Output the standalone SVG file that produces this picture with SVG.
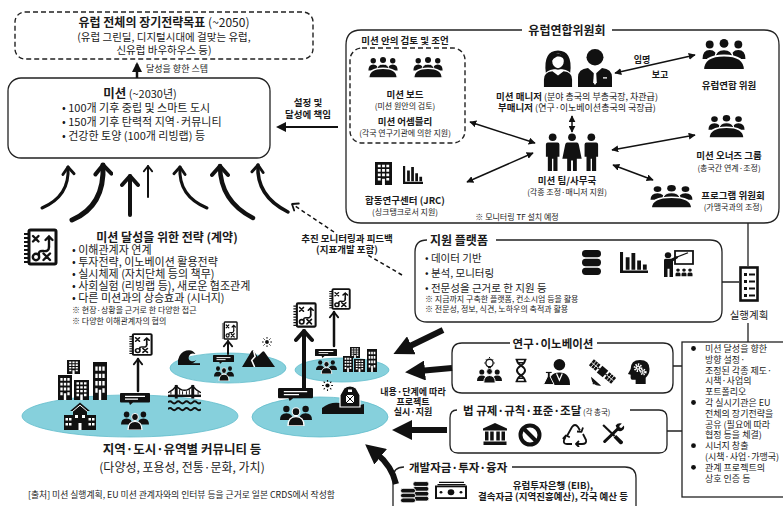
<svg xmlns="http://www.w3.org/2000/svg" width="783" height="506" viewBox="0 0 783 506">
<style>
text{font-family:"Noto Sans CJK KR","Noto Sans",sans-serif;fill:#1a1a1a}
.b{font-weight:bold}
.c{text-anchor:middle}
.ln{fill:none;stroke:#222;stroke-width:1.3}
.dash{fill:none;stroke:#222;stroke-width:1.4;stroke-dasharray:5 3}
.pool{fill:#86d0dc;stroke:#62bccb;stroke-width:0.8}
.dbl{fill:none;stroke:#111;stroke-width:1.5;marker-start:url(#tri);marker-end:url(#tri)}
.up{fill:none;stroke:#111;stroke-linecap:round}
.fat{fill:none;stroke:#111;stroke-width:6;marker-end:url(#big)}
</style>
<defs>
<marker id="tri" viewBox="0 0 10 10" refX="9" refY="5" markerWidth="7" markerHeight="7" markerUnits="userSpaceOnUse" orient="auto-start-reverse"><path d="M0,0 L10,5 L0,10Z" fill="#111"/></marker>
<marker id="triB" viewBox="0 0 10 10" refX="8" refY="5" markerWidth="10" markerHeight="10" markerUnits="userSpaceOnUse" orient="auto"><path d="M0,0 L10,5 L0,10Z" fill="#111"/></marker>
<marker id="big" viewBox="0 0 10 10" refX="3" refY="5" markerWidth="20" markerHeight="20" markerUnits="userSpaceOnUse" orient="auto"><path d="M0,0 L10,5 L0,10Z" fill="#111"/></marker>
<marker id="chevL" viewBox="0 0 20 20" refX="13" refY="10" markerWidth="20" markerHeight="20" markerUnits="userSpaceOnUse" orient="auto"><path d="M4,2 L13,10 L4,18" fill="none" stroke="#111" stroke-width="4" stroke-linecap="round" stroke-linejoin="round"/></marker>
<marker id="chevM" viewBox="0 0 20 20" refX="13" refY="10" markerWidth="16" markerHeight="16" markerUnits="userSpaceOnUse" orient="auto"><path d="M4,3 L13,10 L4,17" fill="none" stroke="#111" stroke-width="3.6" stroke-linecap="round" stroke-linejoin="round"/></marker>
<marker id="chevS" viewBox="0 0 20 20" refX="13" refY="10" markerWidth="12" markerHeight="12" markerUnits="userSpaceOnUse" orient="auto"><path d="M4,3 L13,10 L4,17" fill="none" stroke="#111" stroke-width="3" stroke-linecap="round" stroke-linejoin="round"/></marker>

<!-- meeting: three people behind a round table -->
<symbol id="meet" viewBox="0 0 40 28" preserveAspectRatio="none">
<g fill="#111">
<circle cx="7" cy="5" r="3.6"/><circle cx="33" cy="5" r="3.6"/><circle cx="20" cy="4" r="4"/>
<path d="M0.5,18 Q0.5,10 7,10 Q13.5,10 13.5,18Z"/>
<path d="M26.5,18 Q26.5,10 33,10 Q39.5,10 39.5,18Z"/>
<path d="M12,17 Q12,9.5 20,9.5 Q28,9.5 28,17Z" stroke="#fff" stroke-width="1.2"/>
<path d="M1,28 Q1,15 20,15 Q39,15 39,28Z" stroke="#fff" stroke-width="1.8"/>
</g>
</symbol>
<!-- strategy notebook -->
<symbol id="strat" viewBox="0 0 36 38" preserveAspectRatio="none">
<rect x="7" y="2" width="27" height="34" rx="1.5" fill="#fff" stroke="#111" stroke-width="3"/>
<path d="M2,6H7M2,10H7M2,14H7M2,18H7M2,22H7M2,26H7M2,30H7M2,34H7" stroke="#111" stroke-width="1.8"/>
<g fill="none" stroke="#111" stroke-width="2.4" stroke-linecap="round">
<path d="M11,8 L16.5,13.5 M16.5,8 L11,13.5"/>
<path d="M27,19 V8.5 M23.5,12 L27,8.5 L30.5,12"/>
<path d="M27,19 Q27,24 21,23 Q16,22.5 17,27"/>
<circle cx="14" cy="29" r="3.2"/>
<path d="M21.5,25.5 L28,32 M28,25.5 L21.5,32"/>
</g>
</symbol>
<symbol id="bldg" viewBox="0 0 18 26" preserveAspectRatio="none">
<rect width="18" height="26" fill="#111"/>
<path fill="#fff" d="M3,3h3v3h-3zM7.5,3h3v3h-3zM12,3h3v3h-3zM3,8h3v3h-3zM7.5,8h3v3h-3zM12,8h3v3h-3zM3,13h3v3h-3zM7.5,13h3v3h-3zM12,13h3v3h-3zM3,18h3v3h-3zM12,18h3v3h-3zM7.5,19h3v7h-3z"/>
</symbol>
<symbol id="chart" viewBox="0 0 22 20" preserveAspectRatio="none">
<path d="M1.2,0 V18.8 H22" fill="none" stroke="#111" stroke-width="2.4"/>
<path fill="#111" d="M4.5,5h3v12h-3zM9,1h3v16h-3zM13.5,8h3v9h-3zM18,12h3v5h-3z"/>
</symbol>
<symbol id="man" viewBox="0 0 36 40" preserveAspectRatio="none">
<circle cx="18" cy="9.5" r="8.5" fill="#111"/>
<path fill="#111" d="M1,40 V30 Q1,21.5 11,20.5 L18,27 L25,20.5 Q35,21.5 35,30 V40Z"/>
<path fill="#fff" d="M17,23 H19 L19.8,35 L18,38 L16.2,35Z"/>
<rect x="26" y="30" width="4" height="1.3" fill="#fff"/>
</symbol>
<symbol id="woman" viewBox="0 0 32 40" preserveAspectRatio="none">
<path fill="#111" d="M3,25 Q0,2 16,1.5 Q32,2 29,25 Q26,21 16,21 Q6,21 3,25Z"/>
<ellipse cx="16" cy="12.5" rx="7" ry="8.5" fill="#fff" stroke="#111" stroke-width="1.6"/>
<path fill="#111" d="M8,9 Q12,3 19,5.5 Q23,7.5 23.5,12 Q20,7 15,8 Q11,9.5 9,13Z"/>
<path fill="#111" d="M1,40 V32 Q1,24.5 10,23.5 L16,28 L22,23.5 Q31,24.5 31,32 V40Z"/>
</symbol>
<symbol id="team3" viewBox="0 0 60 40" preserveAspectRatio="none">
<g fill="#111">
<circle cx="10" cy="4.5" r="4"/><path d="M3,12 Q3,10 5,10 H15 Q17,10 17,12 V25 H15 V40 H10.7 V27 H9.3 V40 H5 V25 H3Z"/>
<circle cx="30" cy="4.5" r="4"/><path d="M25,10 H35 Q36.5,10 37,12 L40,27 H35 V40 H31 V29 H29 V40 H25 V27 H20 L23,12 Q23.5,10 25,10Z"/>
<circle cx="50" cy="4.5" r="4"/><path d="M43,12 Q43,10 45,10 H55 Q57,10 57,12 V25 H55 V40 H50.7 V27 H49.3 V40 H45 V25 H43Z"/>
</g>
</symbol>
<symbol id="db" viewBox="0 0 20 26" preserveAspectRatio="none">
<g fill="#111"><rect width="20" height="7.6" rx="3.8"/><rect y="9.2" width="20" height="7.6" rx="3.8"/><rect y="18.4" width="20" height="7.6" rx="3.8"/></g>
</symbol>
<symbol id="pres" viewBox="0 0 32 30" preserveAspectRatio="none">
<rect x="13" y="1" width="18" height="14" fill="#fff" stroke="#111" stroke-width="1.8"/>
<path d="M15,7.5 L26,3" stroke="#111" stroke-width="1.3"/>
<g fill="#111">
<circle cx="6" cy="5.5" r="3.2"/>
<path d="M2,11 Q2,9.5 4,9.5 H9 L15,6.5 L16.3,8.3 L11,12 V29 H7.5 V20 H5.5 V29 H2Z"/>
<circle cx="16" cy="21.5" r="1.8"/><circle cx="22" cy="21.5" r="1.8"/><circle cx="28" cy="21.5" r="1.8"/>
<path d="M13.5,28 V25.5 Q13.5,24 16,24 Q18.5,24 18.5,25.5 V28Z M19.5,28 V25.5 Q19.5,24 22,24 Q24.5,24 24.5,25.5 V28Z M25.5,28 V25.5 Q25.5,24 28,24 Q30.5,24 30.5,25.5 V28Z"/>
</g>
</symbol>
<!-- checklist document used for the action plan -->
<symbol id="listdoc" viewBox="0 0 20 36" preserveAspectRatio="none">
<rect x="1.5" y="1.5" width="17" height="33" fill="#fff" stroke="#111" stroke-width="2.6"/>
<path fill="#111" d="M5,7h3v3h-3zM5,14h3v3h-3zM5,21h3v3h-3zM5,28h3v3h-3z"/>
<path stroke="#111" stroke-width="2" d="M10,8.5H16M10,15.5H16M10,22.5H16M10,29.5H16"/>
</symbol>
<symbol id="idea" viewBox="0 0 26 26" preserveAspectRatio="none">
<circle cx="13" cy="6" r="3.8" fill="none" stroke="#111" stroke-width="1.4"/>
<path d="M13,0 V1 M7.5,6 H8.5 M17.5,6 H18.5 M9,2 L9.7,2.7 M17,2 L16.3,2.7" stroke="#111" stroke-width="1"/>
<g fill="#111">
<rect x="11.5" y="9.5" width="3" height="2.2"/>
<circle cx="5" cy="15" r="2.6"/><circle cx="21" cy="15" r="2.6"/>
<path d="M0,24 Q0,18.5 5,18.5 Q10,18.5 10,24Z M16,24 Q16,18.5 21,18.5 Q26,18.5 26,24Z"/>
<circle cx="13" cy="14.5" r="3" stroke="#fff" stroke-width="0.8"/>
<path d="M7,26 Q7,18.5 13,18.5 Q19,18.5 19,26Z" stroke="#fff" stroke-width="1"/>
</g>
</symbol>
<symbol id="dna" viewBox="0 0 12 26" preserveAspectRatio="none">
<path d="M2,2 C2,8 10,8 10,13 C10,18 2,18 2,24 M10,2 C10,8 2,8 2,13 C2,18 10,18 10,24" fill="none" stroke="#111" stroke-width="2"/>
<path d="M0.5,1.5 H11.5 M0.5,24.5 H11.5 M3.5,5 H8.5 M3.5,21 H8.5" stroke="#111" stroke-width="1.6"/>
</symbol>
<symbol id="sci" viewBox="0 0 28 28" preserveAspectRatio="none">
<g fill="#111">
<circle cx="17" cy="7" r="6"/>
<path d="M6,28 Q6,15 17,15 Q28,15 28,28Z"/>
<path d="M4.5,15 V19.5 L0.5,27.5 H11.5 L7.5,19.5 V15Z" stroke="#fff" stroke-width="1"/>
</g>
<path d="M14,16 L17,23 L20,16" fill="none" stroke="#fff" stroke-width="1.3"/>
<path d="M3,15 H9" stroke="#111" stroke-width="1.2"/>
</symbol>
<symbol id="sat" viewBox="0 0 30 30" preserveAspectRatio="none">
<g transform="rotate(40 15 14)" fill="#111">
<rect x="0" y="10" width="9" height="8"/>
<rect x="11" y="9.5" width="8" height="9"/>
<rect x="21" y="10" width="9" height="8"/>
<path d="M9,14 H11 M19,14 H21" stroke="#111" stroke-width="1.5"/>
<path d="M3,10 V18 M6,10 V18 M24,10 V18 M27,10 V18 M0,14 H9 M21,14 H30" stroke="#fff" stroke-width="0.8"/>
</g>
<path d="M4,21 Q5,28 12,28Z M8,24 L5,27" fill="#111" stroke="#111" stroke-width="1.2"/>
</symbol>
<symbol id="headg" viewBox="0 0 24 26" preserveAspectRatio="none">
<path fill="#111" d="M9,26 V21.5 H5.5 Q3.8,21.5 3.8,19.5 V16.5 L1,15.5 L3.8,10.5 Q3.8,1 13.5,1 Q23.5,1 23.5,10.5 Q23.5,16 19.5,19.5 V26Z"/>
<circle cx="11.5" cy="9" r="3.3" fill="none" stroke="#fff" stroke-width="2.4" stroke-dasharray="1.4 1.1"/>
<circle cx="11.5" cy="9" r="2.3" fill="#fff"/><circle cx="11.5" cy="9" r="0.9" fill="#111"/>
<circle cx="17" cy="13.5" r="2.5" fill="none" stroke="#fff" stroke-width="2" stroke-dasharray="1.2 1"/>
<circle cx="17" cy="13.5" r="1.7" fill="#fff"/><circle cx="17" cy="13.5" r="0.7" fill="#111"/>
</symbol>
<symbol id="court" viewBox="0 0 24 22" preserveAspectRatio="none">
<g fill="#111">
<path d="M12,0 L24,5.5 V7.5 H0 V5.5Z"/>
<path d="M2,8.5h3.5v9h-3.5zM7.2,8.5h3.5v9h-3.5zM13.3,8.5h3.5v9h-3.5zM18.5,8.5h3.5v9h-3.5z"/>
<rect x="0.5" y="18.5" width="23" height="3.5"/>
</g>
</symbol>
<symbol id="ban" viewBox="0 0 24 24" preserveAspectRatio="none">
<circle cx="12" cy="12" r="9.5" fill="none" stroke="#111" stroke-width="4"/>
<path d="M5.5,5.5 L18.5,18.5" stroke="#111" stroke-width="4"/>
</symbol>
<symbol id="recyc" viewBox="0 0 26 24" preserveAspectRatio="none">
<g fill="none" stroke="#111" stroke-width="1.8" stroke-linejoin="round">
<path d="M5,13 L10,4 Q13,0 16,4 L18,7.5"/>
<path d="M15,8.5 L19.5,8.8 L21,4.5"/>
<path d="M21,11 L24,17 Q25,21 20,21 H15"/>
<path d="M17,18 L14,21 L17,24"/>
<path d="M10,21 H5 Q1,21 2,17 L3.5,14"/>
<path d="M0.8,15.8 L4,12.5 L7.8,14.2"/>
</g>
</symbol>
<symbol id="tools" viewBox="0 0 24 24" preserveAspectRatio="none">
<path d="M3,3 L14,14" stroke="#111" stroke-width="2"/>
<path d="M13,15.5 L15.5,13 L22,19.5 Q22.5,21 21,22 Q19.5,22.5 19,22Z" fill="#111"/>
<path d="M4.5,19.5 L17,7" stroke="#111" stroke-width="3" stroke-linecap="round"/>
<path d="M15,3.5 Q17,0.5 21,1.5 L18.5,4 L19,5.5 L20.5,6 L23,3.5 Q24,7.5 20.5,9 Q18.5,9.5 17,8.5Z" fill="#111"/>
</symbol>
<symbol id="coins" viewBox="0 0 28 22" preserveAspectRatio="none">
<g fill="#111" stroke="#fff" stroke-width="0.8">
<rect x="12" y="1.5" width="15" height="4.6" rx="2.3"/><rect x="12" y="6.2" width="15" height="4.6" rx="2.3"/><rect x="12" y="10.9" width="15" height="4.6" rx="2.3"/><rect x="12" y="15.6" width="15" height="4.6" rx="2.3"/>
<rect x="0.5" y="8" width="14" height="4.6" rx="2.3"/><rect x="0.5" y="12.6" width="14" height="4.6" rx="2.3"/><rect x="0.5" y="17.2" width="14" height="4.6" rx="2.3"/>
</g>
</symbol>
<symbol id="note" viewBox="0 0 32 20" preserveAspectRatio="none">
<path d="M4,1.5 H29 M2.5,4 H30.5" stroke="#111" stroke-width="1.5"/>
<rect x="1" y="6" width="30" height="13" fill="#fff" stroke="#111" stroke-width="2"/>
<g fill="#111"><circle cx="16" cy="12.5" r="3.3"/><circle cx="6" cy="12.5" r="1.4"/><circle cx="26" cy="12.5" r="1.4"/></g>
</symbol>
<symbol id="spk" viewBox="0 0 30 14" preserveAspectRatio="none">
<path fill="#111" d="M1,0 H29 Q30,0 30,1 V10 Q30,11 29,11 H13 L10,14 L9,11 H1 Q0,11 0,10 V1 Q0,0 1,0Z"/>
<path d="M5,4 H25 M5,7.2 H18" stroke="#fff" stroke-width="1.4"/>
</symbol>
<symbol id="ppl" viewBox="0 0 30 20" preserveAspectRatio="none">
<g fill="#111">
<circle cx="6" cy="4.5" r="3"/><circle cx="24" cy="4.5" r="3"/>
<path d="M0,14.5 Q0,8.5 6,8.5 Q12,8.5 12,14.5Z M18,14.5 Q18,8.5 24,8.5 Q30,8.5 30,14.5Z"/>
<circle cx="15" cy="7" r="3.6" stroke="#fff" stroke-width="1"/>
<path d="M7.5,20 Q7.5,11.5 15,11.5 Q22.5,11.5 22.5,20Z" stroke="#fff" stroke-width="1.2"/>
</g>
</symbol>
<symbol id="school" viewBox="0 0 34 28" preserveAspectRatio="none">
<g fill="#111">
<rect x="1" y="13" width="9" height="15"/><rect x="24" y="13" width="9" height="15"/>
<path d="M17,0.5 L27,9 H24 V28 H10 V9 H7Z"/>
</g>
<path fill="#fff" d="M2.5,16h2.5v2.5h-2.5zM6,16h2.5v2.5h-2.5zM2.5,21h2.5v2.5h-2.5zM6,21h2.5v2.5h-2.5zM25.5,16h2.5v2.5h-2.5zM29,16h2.5v2.5h-2.5zM25.5,21h2.5v2.5h-2.5zM29,21h2.5v2.5h-2.5zM12,13h3v3h-3zM19,13h3v3h-3zM15.5,21h3v7h-3z"/>
<path d="M9.5,9.5 L17,3.2 L24.5,9.5" fill="none" stroke="#fff" stroke-width="1"/>
</symbol>
<symbol id="bridge" viewBox="0 0 34 30" preserveAspectRatio="none">
<g fill="#111"><rect y="11" width="34" height="2.5"/><rect x="7" y="1" width="3" height="14"/><rect x="24" y="1" width="3" height="14"/></g>
<path d="M0,9 Q5,7 8.5,2 Q17,11 25.5,2 Q29,7 34,9" fill="none" stroke="#111" stroke-width="1.4"/>
<path d="M3,8 V11 M12,5.5 V11 M15,7.5 V11 M19,7.5 V11 M22,5.5 V11 M31,8 V11" stroke="#111" stroke-width="1"/>
<path d="M0,19 q2.1,-2.2 4.25,0 t4.25,0 t4.25,0 t4.25,0 t4.25,0 t4.25,0 t4.25,0 t4.25,0 M0,26 q2.1,-2.2 4.25,0 t4.25,0 t4.25,0 t4.25,0 t4.25,0 t4.25,0 t4.25,0 t4.25,0" fill="none" stroke="#111" stroke-width="2"/>
</symbol>
<symbol id="wave" viewBox="0 0 24 16" preserveAspectRatio="none">
<path fill="#111" d="M0,16 V11 Q2,3 9,1.5 Q16,0 19,5 Q14,3.5 12,7 Q10.5,10.5 14,12 Q17,13 20,11 Q17,15 10,16Z"/>
<rect y="14.2" width="24" height="1.8" fill="#111"/>
</symbol>
<symbol id="mount" viewBox="0 0 34 22" preserveAspectRatio="none">
<path fill="#111" d="M0,22 L10,5 Q11,4 12,5 L16,11 L21,6 Q22,5 23,6 L34,22Z"/>
<path d="M12,5 L13.5,11 L10,15 L13,22" fill="none" stroke="#fff" stroke-width="1.6"/>
</symbol>
<symbol id="sun" viewBox="0 0 12 12">
<circle cx="6" cy="6" r="2.3" fill="#111"/>
<path d="M6,0V2M6,10V12M0,6H2M10,6H12M1.8,1.8L3.2,3.2M8.8,8.8L10.2,10.2M1.8,10.2L3.2,8.8M8.8,3.2L10.2,1.8" stroke="#111" stroke-width="1.2"/>
</symbol>
<symbol id="barn" viewBox="0 0 42 30" preserveAspectRatio="none">
<path fill="#111" d="M0,30 V24 Q10,16 22,20 Q32,23.5 42,20 V30Z"/>
<path fill="#111" stroke="#fff" stroke-width="1.2" d="M18,23 V11 L22,4 Q28,0 34,4 L38,11 V23Z"/>
<rect x="24" y="11" width="8" height="8" fill="#fff"/>
<path d="M24,11 L32,19 M32,11 L24,19" stroke="#111" stroke-width="1"/>
<rect x="26" y="5.5" width="4" height="2.5" fill="#fff"/>
</symbol>
</defs>

<rect width="783" height="506" fill="#fff"/>

<!-- long-term goal -->
<g id="goal">
<rect x="15" y="12" width="298" height="47" rx="10" class="dash"/>
<text x="164" y="27" class="c" font-size="12"><tspan class="b">유럽 전체의 장기전략목표</tspan> (~2050)</text>
<text x="164" y="41" class="c" font-size="10.5">(유럽 그린딜, 디지털시대에 걸맞는 유럽,</text>
<text x="164" y="54" class="c" font-size="10.5">신유럽 바우하우스 등)</text>
</g>

<!-- missions -->
<g id="mission">
<rect x="8" y="78" width="262" height="80" rx="13" fill="#fff" stroke="#222" stroke-width="1.3"/>
<text x="140" y="98" class="c" font-size="11"><tspan class="b" font-size="12.5">미션</tspan> (~2030년)</text>
<text x="62" y="112" font-size="11">• 100개 기후 중립 및 스마트 도시</text>
<text x="62" y="126" font-size="11">• 150개 기후 탄력적 지역·커뮤니티</text>
<text x="62" y="140" font-size="11">• 건강한 토양 (100개 리빙랩) 등</text>
</g>

<!-- European Commission -->
<g id="commission">
<path class="ln" d="M522,30 H361 Q346,30 346,45 V208 Q346,223 361,223 H764 Q779,223 779,208 V45 Q779,30 764,30 H612"/>
<text x="567" y="34.5" class="c b" font-size="12">유럽연합위원회</text>
<text x="517" y="220" class="c" font-size="8">※ 모니터링 TF 설치 예정</text>
</g>
<g id="review">
<text x="405" y="44" class="c b" font-size="9.5">미션 안의 검토 및 조언</text>
<rect x="350" y="48" width="115" height="95" rx="12" class="dash"/>
<use href="#meet" x="368" y="57" width="30" height="21"/>
<use href="#meet" x="413" y="57" width="30" height="21"/>
<text x="405" y="98" class="c b" font-size="9.5">미션 보드</text>
<text x="405" y="109" class="c" font-size="8">(미션 원안의 검토)</text>
<text x="405" y="125" class="c b" font-size="9.5">미션 어셈블리</text>
<text x="405" y="136" class="c" font-size="8">(각국 연구기관에 의한 지원)</text>
</g>
<g id="jrc">
<use href="#bldg" x="375" y="162" width="17" height="23"/>
<use href="#chart" x="403" y="166" width="20" height="18"/>
<text x="405" y="204" class="c b" font-size="9.5">합동연구센터 (JRC)</text>
<text x="405" y="215" class="c" font-size="8">(싱크탱크로서 지원)</text>
</g>
<g id="manager">
<use href="#woman" x="543" y="49" width="30" height="38"/>
<use href="#man" x="577" y="48" width="36" height="39"/>
<text x="577" y="100" class="c" font-size="9"><tspan class="b" font-size="9.5">미션 매니저</tspan> (분야 총국의 부총국장, 차관급)</text>
<text x="577" y="111" class="c" font-size="9"><tspan class="b" font-size="9.5">부매니저</tspan> (연구·이노베이션총국의 국장급)</text>
</g>
<g id="team">
<use href="#team3" x="543" y="133" width="58" height="38"/>
<text x="567" y="184" class="c b" font-size="9.5">미션 팀/사무국</text>
<text x="567" y="195" class="c" font-size="8">(각종 조정·매니저 지원)</text>
</g>
<g id="commissioner">
<use href="#meet" x="702" y="39" width="44" height="31"/>
<text x="729" y="89" class="c b" font-size="9.5">유럽연합 위원</text>
</g>
<g id="owners">
<use href="#meet" x="708" y="115" width="37" height="23"/>
<text x="729" y="159" class="c b" font-size="9.5">미션 오너즈 그룹</text>
<text x="729" y="171" class="c" font-size="8">(총국간 연계·조정)</text>
</g>
<g id="program">
<use href="#meet" x="650" y="185" width="43" height="23"/>
<text x="733" y="199" class="c b" font-size="9.5">프로그램 위원회</text>
<text x="733" y="210" class="c" font-size="8">(가맹국과의 조정)</text>
</g>

<!-- strategy -->
<g id="strategy">
<use href="#strat" x="22" y="228" width="36" height="38"/>
<text x="167" y="242" class="c b" font-size="12">미션 달성을 위한 전략 (계약)</text>
<text x="72" y="254" font-size="11">• 이해관계자 연계</text>
<text x="72" y="266" font-size="11">• 투자전략, 이노베이션 활용전략</text>
<text x="72" y="278" font-size="11">• 실시체제 (자치단체 등의 책무)</text>
<text x="72" y="290" font-size="11">• 사회실험 (리빙랩 등), 새로운 협조관계</text>
<text x="72" y="302" font-size="11">• 다른 미션과의 상승효과 (시너지)</text>
<text x="72" y="312.5" font-size="8">※ 현장·상황을 근거로 한 다양한 접근</text>
<text x="72" y="324" font-size="8">※ 다양한 이해관계자의 협의</text>
</g>

<!-- support platform -->
<g id="platform">
<path class="ln" d="M427,240 Q415,240 415,252 V310 Q415,322 427,322 H710 Q722,322 722,310 V252 Q722,240 710,240 H496"/>
<text x="430" y="244.5" class="b" font-size="12">지원 플랫폼</text>
<text x="425" y="262" font-size="10.5">• 데이터 기반</text>
<text x="425" y="277" font-size="10.5">• 분석, 모니터링</text>
<text x="425" y="292" font-size="10.5">• 전문성을 근거로 한 지원 등</text>
<text x="425" y="302" font-size="8">※ 지금까지 구축한 플랫폼, 컨소시엄 등을 활용</text>
<text x="425" y="312" font-size="8">※ 전문성, 정보, 식견, 노하우의 축적과 활용</text>
<use href="#db" x="582" y="250" width="19" height="25"/>
<use href="#chart" x="620" y="252" width="28" height="21"/>
<use href="#pres" x="662" y="250" width="32" height="28"/>
</g>

<!-- action plan -->
<g id="plan">
<use href="#listdoc" x="739" y="266" width="20" height="36"/>
<text x="749" y="319" class="c" font-size="10.5">실행계획</text>
</g>
<g id="plan-notes">
<rect x="682" y="342" width="115" height="155" fill="#fff" stroke="#222" stroke-width="1.3"/>
<g fill="#111"><circle cx="693.5" cy="348.5" r="2.4"/><circle cx="693.5" cy="402.5" r="2.4"/><circle cx="693.5" cy="445.7" r="2.4"/><circle cx="693.5" cy="467.3" r="2.4"/></g>
<g font-size="9">
<text x="705" y="352">미션 달성을 향한</text>
<text x="705" y="362.8">방향 설정·</text>
<text x="705" y="373.6">조정된 각종 제도·</text>
<text x="705" y="384.4">시책·사업의</text>
<text x="705" y="395.2">포트폴리오</text>
<text x="705" y="406">각 실시기관은 EU</text>
<text x="705" y="416.8">전체의 장기전략을</text>
<text x="705" y="427.6">공유 (필요에 따라</text>
<text x="705" y="438.4">협정 등을 체결)</text>
<text x="705" y="449.2">시너지 창출</text>
<text x="705" y="460">(시책·사업·가맹국)</text>
<text x="705" y="470.8">관계 프로젝트의</text>
<text x="705" y="481.6">상호 인증 등</text>
</g>
</g>

<!-- research & innovation -->
<g id="research">
<path class="ln" d="M510,343 H462 Q452,343 452,353 V383 Q452,393 462,393 H663 Q673,393 673,383 V353 Q673,343 663,343 H597"/>
<text x="553" y="347.5" class="c b" font-size="11.5">연구·이노베이션</text>
<use href="#idea" x="477" y="357" width="25" height="26"/>
<use href="#dna" x="515" y="358" width="12" height="25"/>
<use href="#sci" x="543" y="358" width="27" height="27"/>
<use href="#sat" x="588" y="358" width="29" height="29"/>
<use href="#headg" x="627" y="359" width="23" height="25"/>
</g>

<!-- regulation -->
<g id="regulation">
<path class="ln" d="M457,410 Q450,410 450,418 V445 Q450,453 458,453 H659 Q667,453 667,445 V418 Q667,410 659,410 H630"/>
<text x="463" y="414.5" font-size="11.5"><tspan class="b">법 규제·규칙·표준·조달</tspan><tspan font-size="7.5"> (각 총국)</tspan></text>
<use href="#court" x="483" y="423" width="24" height="22"/>
<use href="#ban" x="518" y="423" width="24" height="24"/>
<use href="#recyc" x="562" y="423" width="26" height="24"/>
<use href="#tools" x="600" y="422" width="25" height="24"/>
</g>

<!-- funding -->
<g id="funding">
<path class="ln" d="M404,467 Q393,467 393,478 V512 M636,512 V478 Q636,467 625,467 H512"/>
<text x="409" y="471.5" class="b" font-size="11.5">개발자금·투자·융자</text>
<use href="#coins" x="400" y="480" width="30" height="23"/>
<use href="#note" x="435" y="481" width="32" height="18"/>
<text x="553" y="489" class="c b" font-size="9.5">유럽투자은행 (EIB),</text>
<text x="553" y="500" class="c b" font-size="9.5">결속자금 (지역진흥예산), 각국 예산 등</text>
</g>

<!-- local communities -->
<g id="communities">
<ellipse cx="130" cy="416" rx="108" ry="21" class="pool"/>
<ellipse cx="228" cy="368" rx="58" ry="15" class="pool"/>
<ellipse cx="342" cy="370" rx="47" ry="12" class="pool"/>
<ellipse cx="320" cy="417" rx="68" ry="20" class="pool"/>

<use href="#bldg" x="67" y="360" width="13" height="14"/>
<use href="#bldg" x="58" y="375" width="14" height="25"/>
<use href="#bldg" x="74" y="380" width="15" height="20"/>
<use href="#bldg" x="93" y="362" width="14" height="38"/>
<use href="#school" x="63" y="402" width="34" height="28"/>
<use href="#spk" x="120" y="393" width="30" height="12"/>
<use href="#ppl" x="121" y="410" width="28" height="20"/>
<use href="#bridge" x="168" y="384" width="33" height="29"/>
<use href="#strat" x="128" y="333" width="25" height="23"/>

<use href="#wave" x="178" y="349" width="22" height="16"/>
<use href="#spk" x="213" y="355" width="21" height="9"/>
<use href="#ppl" x="214" y="365" width="20" height="16"/>
<use href="#mount" x="242" y="346" width="33" height="21"/>
<use href="#sun" x="262" y="337" width="10" height="10"/>
<use href="#strat" x="221" y="321" width="17" height="19"/>

<use href="#spk" x="315" y="349" width="22" height="9"/>
<use href="#ppl" x="316" y="359" width="21" height="15"/>
<use href="#bldg" x="343" y="356" width="10" height="16"/>
<use href="#bldg" x="350" y="347" width="10" height="11"/>
<use href="#bldg" x="354" y="359" width="11" height="13"/>
<use href="#bldg" x="367" y="349" width="10" height="23"/>
<use href="#strat" x="328" y="288" width="23" height="22"/>

<use href="#spk" x="278" y="388" width="35" height="13"/>
<use href="#ppl" x="280" y="404" width="32" height="22"/>
<use href="#barn" x="322" y="384" width="42" height="30"/>
<use href="#sun" x="322" y="380" width="11" height="11"/>
<use href="#strat" x="292" y="302" width="25" height="26"/>

<text x="182" y="454" class="c b" font-size="12.5">지역·도시·유역별 커뮤니티 등</text>
<text x="182" y="472" class="c" font-size="12">(다양성, 포용성, 전통·문화, 가치)</text>
</g>

<text x="28" y="498" font-size="8.8">[출처] 미션 실행계획, EU 미션 관계자와의 인터뷰 등을 근거로 일본 CRDS에서 작성함</text>

<!-- connectors -->
<g id="connectors">
<path d="M137,78 V64" stroke="#111" stroke-width="2.5" marker-end="url(#triB)"/>
<text x="146" y="72" font-size="9">달성을 향한 스텝</text>
<path d="M338,127 H278" stroke="#111" stroke-width="2" marker-end="url(#triB)"/>
<text x="308" y="106" class="c b" font-size="9.5">설정 및</text>
<text x="308" y="118" class="c b" font-size="9.5">달성에 책임</text>

<path class="up" stroke-width="3" marker-end="url(#chevM)" d="M42,208 Q70,196 68,167"/>
<path class="up" stroke-width="5" marker-end="url(#chevL)" d="M72,220 Q105,206 103,165"/>
<path class="up" stroke-width="4" marker-end="url(#chevL)" d="M130,215 V176"/>
<path class="up" stroke-width="2" marker-end="url(#chevS)" d="M148,197 V166"/>
<path class="up" stroke-width="3" marker-end="url(#chevM)" d="M207,208 Q178,196 180,167"/>
<path class="up" stroke-width="4.5" marker-end="url(#chevL)" d="M253,218 Q220,201 220,166"/>
<path class="up" stroke-width="3.5" marker-end="url(#chevM)" d="M288,212 Q256,196 258,165"/>

<path d="M402,275 L366,254" fill="none" stroke="#111" stroke-width="1.5" stroke-dasharray="4 3"/>
<path d="M334,232 L292,204" fill="none" stroke="#111" stroke-width="1.5" stroke-dasharray="4 3" marker-end="url(#chevS)"/>
<text x="347" y="242" class="c b" font-size="9.5">추진 모니터링과 피드백</text>
<text x="347" y="253" class="c b" font-size="9.5">(지표개발 포함)</text>

<path class="dbl" d="M470,122 L535,143"/>
<path class="dbl" d="M467,182 L533,153"/>
<path class="dbl" d="M615,73 L695,55"/>
<path class="dbl" d="M572,116 V132"/>
<path class="dbl" d="M612,150 L695,135"/>
<path class="dbl" d="M613,165 L653,180"/>
<text x="642" y="63" class="c b" font-size="9">임명</text>
<text x="660" y="78" class="c b" font-size="9">보고</text>

<path class="ln" d="M748,223 V266 M722,282 H739 M748,323 V342 M673,366 H682 M667,431 H682"/>

<path class="fat" d="M443,330 L406,348"/>
<path class="fat" d="M452,368 L419,371"/>
<path class="fat" d="M447,430 L406,430"/>
<path class="fat" d="M396,484 Q392,466 376,453"/>
<text x="413" y="395" class="c b" font-size="9">내용·단계에 따라</text>
<text x="413" y="405" class="c b" font-size="9">프로젝트</text>
<text x="413" y="415" class="c b" font-size="9">실시·지원</text>

<path class="up" stroke-width="2.5" marker-end="url(#chevS)" d="M138,391 V359"/>
<path class="up" stroke-width="2" marker-end="url(#chevS)" d="M228,354 V341"/>
<path class="up" stroke-width="2.5" marker-end="url(#chevS)" d="M334,346 V312"/>
<path class="up" stroke-width="4" marker-end="url(#chevL)" d="M304,389 V331"/>
</g>
</svg>
